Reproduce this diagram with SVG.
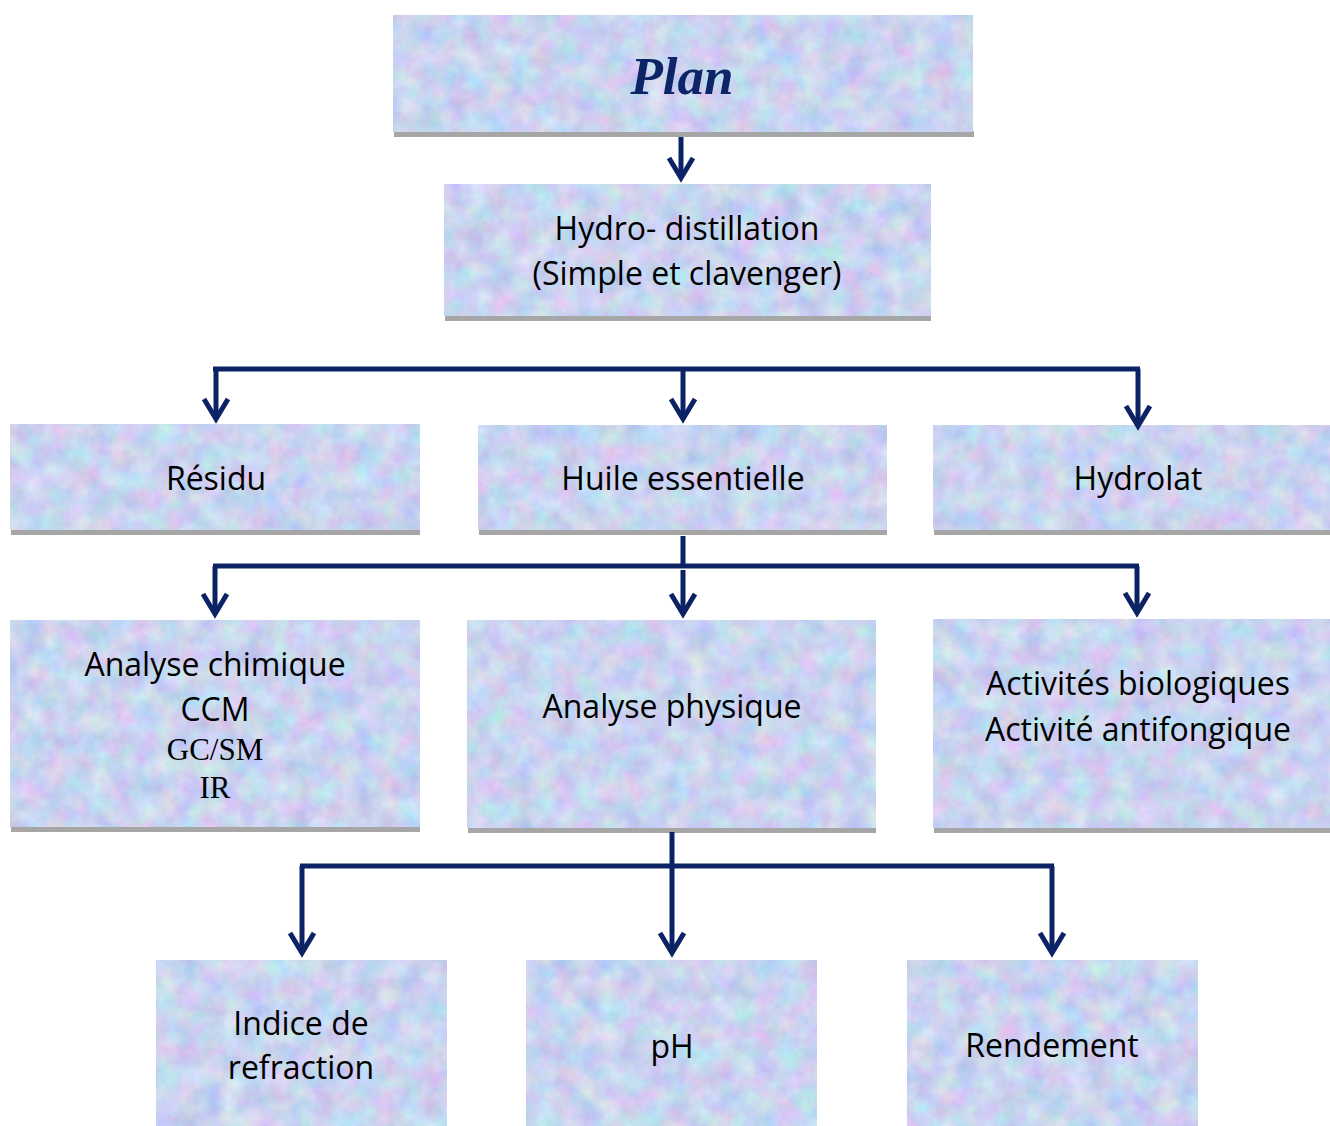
<svg xmlns="http://www.w3.org/2000/svg" width="1330" height="1126" viewBox="0 0 1330 1126">
  <defs>
    <filter id="tex" x="0" y="0" width="100%" height="100%" color-interpolation-filters="sRGB">
      <feTurbulence type="fractalNoise" baseFrequency="0.045" numOctaves="4" seed="7" result="n"/>
      <feColorMatrix in="n" type="matrix" values="0.3 0 0 0 0.64  0 0.26 0 0 0.70  0 0 0.14 0 0.87  0 0 0 0 1" result="c"/>
      <feComposite in="c" in2="SourceGraphic" operator="in"/>
    </filter>
    <marker id="arr" markerUnits="userSpaceOnUse" markerWidth="40" markerHeight="40" viewBox="-25 -20 40 40" refX="0" refY="0" orient="auto" overflow="visible">
      <path d="M-19,-12 L1,0 L-19,12" fill="none" stroke="#0b2265" stroke-width="5" stroke-linejoin="miter"/>
    </marker>
    <style>
      .box { fill: #c6d3f0; filter: url(#tex); }
      .shadow { fill: #a6a6a6; }
      .t { font-family: "Open Sans", "Liberation Sans", sans-serif; font-size: 32px; fill: #000; text-anchor: middle; }
      .s { font-family: "Liberation Serif", "Times New Roman", serif; font-size: 31px; fill: #000; text-anchor: middle; }
      .title { font-family: "Liberation Serif", "Times New Roman", serif; font-size: 53px; font-weight: bold; font-style: italic; fill: #0d2466; text-anchor: middle; }
      .c { fill: none; stroke: #0b2265; stroke-width: 5; }
      .a { marker-end: url(#arr); }
    </style>
  </defs>
  <rect width="1330" height="1126" fill="#ffffff"/>

  <g id="plan">
    <rect class="shadow" x="394" y="131" width="580" height="6"/>
    <rect class="box" x="393" y="15" width="580" height="117"/>
    <text class="title" x="682" y="94">Plan</text>
  </g>
  <g id="hydrodistillation">
    <rect class="shadow" x="445" y="315" width="486" height="6"/>
    <rect class="box" x="444" y="184" width="487" height="132"/>
    <text class="t" x="687" y="240">Hydro- distillation</text>
    <text class="t" x="687" y="285">(Simple et clavenger)</text>
  </g>
  <g id="residu">
    <rect class="shadow" x="11" y="529" width="409" height="6"/>
    <rect class="box" x="10" y="424" width="410" height="106"/>
    <text class="t" x="216" y="490">Résidu</text>
  </g>
  <g id="huile">
    <rect class="shadow" x="479" y="529" width="408" height="6"/>
    <rect class="box" x="478" y="425" width="409" height="105"/>
    <text class="t" x="683" y="490">Huile essentielle</text>
  </g>
  <g id="hydrolat">
    <rect class="shadow" x="934" y="529" width="396" height="6"/>
    <rect class="box" x="933" y="425" width="397" height="105"/>
    <text class="t" x="1138" y="490">Hydrolat</text>
  </g>
  <g id="analyse-chimique">
    <rect class="shadow" x="11" y="826" width="409" height="6"/>
    <rect class="box" x="10" y="620" width="410" height="207"/>
    <text class="t" x="215" y="676">Analyse chimique</text>
    <text class="t" x="215" y="721">CCM</text>
    <text class="s" x="215" y="760">GC/SM</text>
    <text class="s" x="215" y="798">IR</text>
  </g>
  <g id="analyse-physique">
    <rect class="shadow" x="468" y="827" width="408" height="6"/>
    <rect class="box" x="467" y="620" width="409" height="208"/>
    <text class="t" x="672" y="718">Analyse physique</text>
  </g>
  <g id="activites">
    <rect class="shadow" x="934" y="827" width="396" height="6"/>
    <rect class="box" x="933" y="619" width="397" height="209"/>
    <text class="t" x="1138" y="695">Activités biologiques</text>
    <text class="t" x="1138" y="741">Activité antifongique</text>
  </g>
  <g id="indice">
    <rect class="box" x="156" y="960" width="291" height="166"/>
    <text class="t" x="301" y="1035">Indice de</text>
    <text class="t" x="301" y="1079">refraction</text>
  </g>
  <g id="ph">
    <rect class="box" x="526" y="960" width="291" height="166"/>
    <text class="t" x="672" y="1058">pH</text>
  </g>
  <g id="rendement">
    <rect class="box" x="907" y="960" width="291" height="166"/>
    <text class="t" x="1052" y="1057">Rendement</text>
  </g>

  <g id="connectors">
    <path class="c a" d="M681,137 V177"/>
    <path class="c" d="M213,369 H1140"/>
    <path class="c a" d="M216,369 V418"/>
    <path class="c a" d="M683,369 V418"/>
    <path class="c a" d="M1138,369 V425"/>
    <path class="c" d="M683,536 V566"/>
    <path class="c" d="M213,566 H1139"/>
    <path class="c a" d="M215,566 V613"/>
    <path class="c a" d="M683,570 V613"/>
    <path class="c a" d="M1137,566 V612"/>
    <path class="c" d="M672,832 V866"/>
    <path class="c" d="M300,866 H1054"/>
    <path class="c a" d="M302,866 V952"/>
    <path class="c a" d="M672,866 V952"/>
    <path class="c a" d="M1052,866 V952"/>
  </g>
</svg>
